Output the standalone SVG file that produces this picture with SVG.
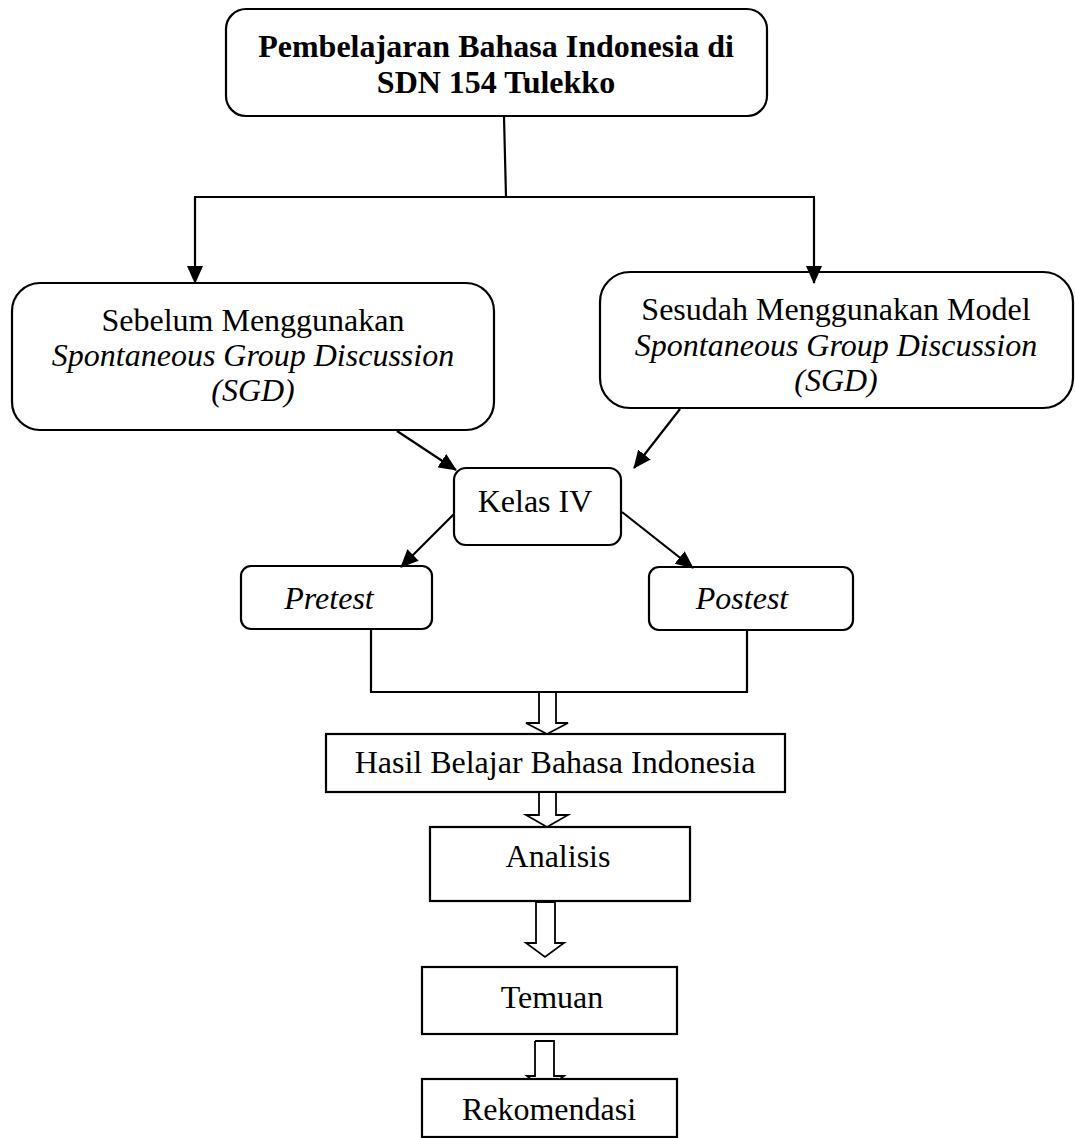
<svg xmlns="http://www.w3.org/2000/svg" width="1075" height="1138" viewBox="0 0 1075 1138">
<style>
  .box { fill: #ffffff; stroke: #000000; stroke-width: 2.2; }
  .ln { fill: none; stroke: #000000; stroke-width: 2.2; }
  .hollow { fill: #ffffff; stroke: #000000; stroke-width: 1.8; stroke-linejoin: miter; }
  text { font-family: "Liberation Serif", "Times New Roman", serif; font-size: 32px; fill: #000000; text-anchor: middle; }
  .b { font-weight: bold; }
  .i { font-style: italic; }
</style>
<defs>
  <marker id="ah" markerUnits="userSpaceOnUse" markerWidth="18" markerHeight="16" viewBox="0 0 18 16" refX="17" refY="8" orient="auto">
    <path d="M0,0 L18,8 L0,16 Z" fill="#000000"/>
  </marker>
</defs>
<rect width="1075" height="1138" fill="#ffffff"/>
<g id="n-top">
  <rect class="box" x="226" y="9" width="541" height="107" rx="20"/>
  <text class="b" x="496" y="57">Pembelajaran Bahasa Indonesia di</text>
  <text class="b" x="496" y="93">SDN 154 Tulekko</text>
</g>
<g id="n-sebelum">
  <rect class="box" x="12" y="283" width="482" height="147" rx="28"/>
  <text x="253" y="331">Sebelum Menggunakan</text>
  <text class="i" x="253" y="366">Spontaneous Group Discussion</text>
  <text class="i" x="253" y="401">(SGD)</text>
</g>
<g id="n-sesudah">
  <rect class="box" x="600" y="272" width="473" height="136" rx="30"/>
  <text x="836" y="320">Sesudah Menggunakan Model</text>
  <text class="i" x="836" y="356">Spontaneous Group Discussion</text>
  <text class="i" x="836" y="391">(SGD)</text>
</g>
<g id="n-kelas">
  <rect class="box" x="454" y="468" width="167" height="77" rx="12"/>
  <text x="535" y="512">Kelas IV</text>
</g>
<g id="n-pretest">
  <rect class="box" x="241" y="566" width="191" height="63" rx="10"/>
  <text class="i" x="329" y="609">Pretest</text>
</g>
<g id="n-postest">
  <rect class="box" x="649" y="567" width="204" height="63" rx="10"/>
  <text class="i" x="742" y="609">Postest</text>
</g>
<g id="n-hasil">
  <rect class="box" x="326" y="734" width="459" height="58"/>
  <text x="555" y="773">Hasil Belajar Bahasa Indonesia</text>
</g>
<g id="n-analisis">
  <rect class="box" x="430" y="827" width="260" height="74"/>
  <text x="558" y="867">Analisis</text>
</g>
<g id="n-temuan">
  <rect class="box" x="422" y="967" width="255" height="67"/>
  <text x="552" y="1008">Temuan</text>
</g>
<g id="n-rekomendasi">
  <rect class="box" x="422" y="1079" width="255" height="58"/>
  <text x="549" y="1120">Rekomendasi</text>
</g>
<g id="connectors">
  <line class="ln" x1="504" y1="117" x2="506" y2="197"/>
  <line class="ln" x1="194" y1="197" x2="815" y2="197"/>
  <line class="ln" x1="195" y1="197" x2="195" y2="283" marker-end="url(#ah)"/>
  <line class="ln" x1="814" y1="197" x2="814" y2="283" marker-end="url(#ah)"/>
  <line class="ln" x1="397" y1="431" x2="456" y2="470" marker-end="url(#ah)"/>
  <line class="ln" x1="680" y1="409" x2="634" y2="468" marker-end="url(#ah)"/>
  <line class="ln" x1="454" y1="514" x2="401" y2="567" marker-end="url(#ah)"/>
  <line class="ln" x1="622" y1="512" x2="693" y2="568" marker-end="url(#ah)"/>
  <path class="ln" d="M371,630 L371,692 L747,692 L747,631"/>
  <path class="hollow" d="M539,693 L539,723 L526,723 L547,734 L568,723 L556,723 L556,693"/>
  <path class="hollow" d="M539,793 L539,815 L526,815 L547,827 L568,815 L556,815 L556,793"/>
  <path class="hollow" d="M536,902 L536,943 L526,943 L545,957 L564,943 L555,943 L555,902 Z"/>
  <path class="hollow" d="M535,1041 L535,1076 L527,1076 L530.9,1079 M559.9,1079 L564,1076 L554,1076 L554,1041 L535,1041"/>
</g>
</svg>
